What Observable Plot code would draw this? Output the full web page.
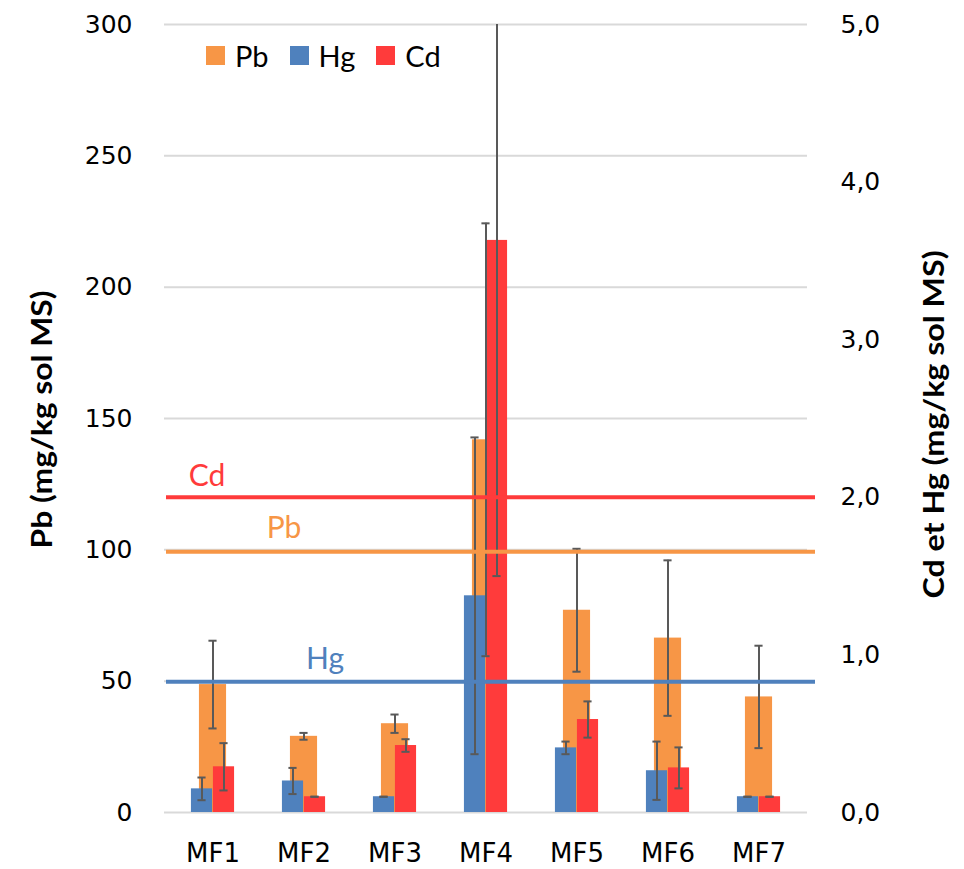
<!DOCTYPE html>
<html>
<head>
<meta charset="utf-8">
<script src="https://cdn.jsdelivr.net/npm/d3@7"></script>
<script src="https://cdn.jsdelivr.net/npm/@observablehq/plot@0.6"></script>
<style>
  body { margin: 0; background: #fff; }
  #wrap { position: relative; width: 964px; height: 869px; }
  #legend { position: absolute; left: 206px; top: 38px; display: flex; align-items: center;
            font-family: Lato, sans-serif; font-size: 29px; color: #000; }
  #legend .item { display: flex; align-items: center; margin-right: 21px; }
  #legend .sw { width: 19px; height: 19px; margin-right: 10px; }
</style>
</head>
<body>
<div id="wrap"><div id="legend"></div></div>
<script>
// ---- data ----
const categories = ["MF1", "MF2", "MF3", "MF4", "MF5", "MF6", "MF7"];
// Pb (left axis, mg/kg)
const pbValues = [48.7, 29.0, 33.8, 141.9, 77.0, 66.4, 44.0];
const pbErrors = [16.7, 1.3, 3.5, 82.4, 23.4, 29.6, 19.5];
// Hg (right axis, mg/kg)
const hgValues = [0.15, 0.20, 0.10, 1.375, 0.41, 0.265, 0.10];
const hgErrors = [0.072, 0.083, 0, 1.005, 0.04, 0.185, 0];
// Cd (right axis, mg/kg)
const cdValues = [0.29, 0.10, 0.425, 3.63, 0.59, 0.283, 0.10];
const cdErrors = [0.15, 0, 0.04, 2.13, 0.115, 0.13, 0];

const seriesNames = ["Pb", "Hg", "Cd"];
const seriesColors = ["#F79646", "#4F81BD", "#FF3B3B"];

// threshold lines
const thresholdNames = ["Cd", "Pb", "Hg"];
const thresholdValues = [2.0, 99.3, 0.83];
const thresholdAxis = ["right", "left", "right"];
const thresholdLabelAt = ["MF1", "MF2", "MF2"];

const leftTicks = [0, 50, 100, 150, 200, 250, 300];
const rightTicks = [0, 1, 2, 3, 4, 5];
const leftTitle = "Pb (mg/kg sol MS)";
const rightTitle = "Cd et Hg (mg/kg sol MS)";

// ---- layout ----
const W = 964, H = 869, mL = 164, mR = 157, mT = 24, mB = 57;
const R = 300 / 5; // right axis 5,0 aligns with left 300
const bw = (W - mL - mR) / categories.length;
const pbW = 28, subW = 22, capW = 9;
const colorOf = Object.fromEntries(seriesNames.map((n, i) => [n, seriesColors[i]]));

const rows = categories.map((cat, i) => ({
  cat,
  pb: pbValues[i], pbLo: pbValues[i] - pbErrors[i], pbHi: pbValues[i] + pbErrors[i],
  hg: hgValues[i] * R, hgLo: (hgValues[i] - hgErrors[i]) * R, hgHi: (hgValues[i] + hgErrors[i]) * R,
  cd: cdValues[i] * R, cdLo: (cdValues[i] - cdErrors[i]) * R, cdHi: (cdValues[i] + cdErrors[i]) * R
}));

const thresholds = thresholdNames.map((name, i) => ({
  name, at: thresholdLabelAt[i],
  left: thresholdAxis[i] === "right" ? thresholdValues[i] * R : thresholdValues[i],
  color: colorOf[name]
}));
const labelOffsets = { Cd: [-6, -11], Pb: [-20, -14], Hg: [21, -13] };

const errColor = "#595959";
function errorMarks(key, dx) {
  const capInset = (bw - capW) / 2;
  return [
    Plot.ruleX(rows, { x: "cat", y1: key + "Lo", y2: key + "Hi", dx, stroke: errColor, strokeWidth: 2 }),
    Plot.tickY(rows, { x: "cat", y: key + "Hi", dx, insetLeft: capInset, insetRight: capInset,
      stroke: errColor, strokeWidth: 2, filter: d => d[key + "Hi"] <= 300 }),
    Plot.tickY(rows, { x: "cat", y: key + "Lo", dx, insetLeft: capInset, insetRight: capInset,
      stroke: errColor, strokeWidth: 2 })
  ];
}

const leftLen = 258, rightLen = 348;
const frameMidY = mT + (H - mT - mB) / 2;

const chart = Plot.plot({
  width: W, height: H,
  marginLeft: mL, marginRight: mR, marginTop: mT, marginBottom: mB,
  style: { fontFamily: "DejaVu Sans", fontSize: "25px", color: "#000", background: "transparent", overflow: "visible" },
  x: { domain: categories, padding: 0 },
  y: { domain: [0, 300], clamp: true },
  marks: [
    Plot.ruleY(leftTicks, { stroke: "#d9d9d9", strokeWidth: 2 }),
    Plot.barY(rows, { x: "cat", y: "pb", fill: colorOf.Pb, insetLeft: (bw - pbW) / 2, insetRight: (bw - pbW) / 2 }),
    Plot.barY(rows, { x: "cat", y: "hg", fill: colorOf.Hg, insetLeft: bw / 2 - subW, insetRight: bw / 2 }),
    Plot.barY(rows, { x: "cat", y: "cd", fill: colorOf.Cd, insetLeft: bw / 2, insetRight: bw / 2 - subW }),
    ...errorMarks("pb", 0),
    ...errorMarks("hg", -11),
    ...errorMarks("cd", 11),
    ...thresholds.map(t => Plot.ruleY([t], { y: "left", stroke: t.color, strokeWidth: 4, insetLeft: 2, insetRight: -8 })),
    ...thresholds.map(t => Plot.text([t], { x: "at", y: "left", text: "name", fill: t.color,
      dx: labelOffsets[t.name][0], dy: labelOffsets[t.name][1], lineAnchor: "bottom",
      fontFamily: "Lato", fontSize: 30 })),
    Plot.axisY(leftTicks, { anchor: "left", tickSize: 0, tickPadding: 32, fontSize: 25, fill: "#000", label: null }),
    Plot.axisY(rightTicks.map(v => v * R), { anchor: "right", tickSize: 0, tickPadding: 33, fontSize: 25, fill: "#000",
      label: null, tickFormat: d => (d / R).toFixed(1).replace(".", ",") }),
    Plot.axisX({ tickSize: 0, tickPadding: 31, fontSize: 26, fill: "#000", label: null }),
    Plot.text([leftTitle], { text: d => d, frameAnchor: "left", dx: -121, dy: 548 - frameMidY, rotate: -90,
      textAnchor: "start", fontFamily: "Lato", fontWeight: "bold", fontSize: 28, fill: "#000" }),
    Plot.text([rightTitle], { text: d => d, frameAnchor: "right", dx: 128, dy: 598 - frameMidY, rotate: -90,
      textAnchor: "start", fontFamily: "Lato", fontWeight: "bold", fontSize: 28, fill: "#000" })
  ]
});

document.getElementById("wrap").prepend(chart);

// stretch titles to the reference's length
const allText = d3.select(chart).selectAll("text");
allText.filter(function () { return this.textContent === leftTitle; })
  .attr("textLength", leftLen).attr("lengthAdjust", "spacingAndGlyphs");
allText.filter(function () { return this.textContent === rightTitle; })
  .attr("textLength", rightLen).attr("lengthAdjust", "spacingAndGlyphs");

// legend
const legend = d3.select("#legend");
seriesNames.forEach((n, i) => {
  const item = legend.append("div").attr("class", "item");
  item.append("div").attr("class", "sw").style("background", seriesColors[i]);
  item.append("span").text(n);
});
</script>
</body>
</html>
